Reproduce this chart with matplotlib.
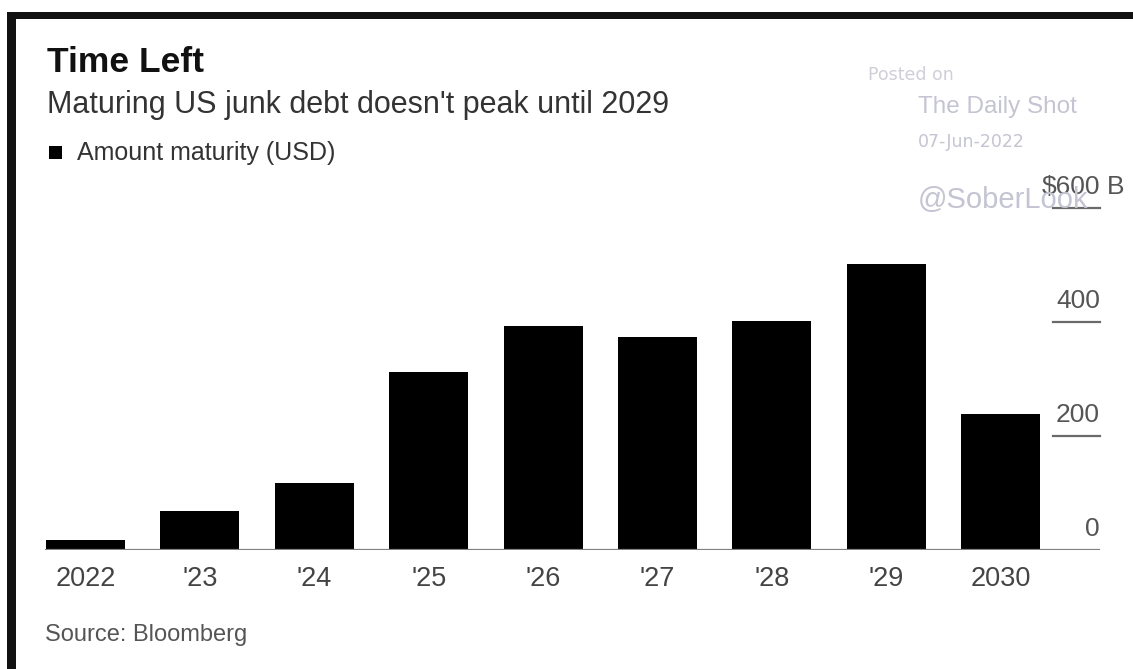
import matplotlib.pyplot as plt
from matplotlib.patches import Rectangle

plt.rcParams["font.family"] = ["Liberation Sans", "DejaVu Sans"]

# Maturing US high-yield debt by year, $ billions
years = ["2022", "'23", "'24", "'25", "'26", "'27", "'28", "'29", "2030"]
amounts = [17, 68, 117, 311, 392, 374, 401, 501, 238]
y_ticks = [0, 200, 400, 600]
y_labels = ["0", "200", "400", "\\$600"]

W, H = 1133, 669
fig = plt.figure(figsize=(W / 100, H / 100), dpi=100)
fig.patch.set_facecolor("white")

# frame bands along the top and left edge
fig.add_artist(Rectangle((7 / W, (H - 19) / H), 1, 7 / H,
                         transform=fig.transFigure, color="#111111", lw=0))
fig.add_artist(Rectangle((7 / W, 0), 9 / W, (H - 12) / H,
                         transform=fig.transFigure, color="#111111", lw=0))

ax = fig.add_axes([45 / W, (H - 549.5) / H, 1055 / W, 341.5 / H])
x = range(len(years))
ax.bar(x, amounts, width=0.69, color="black", zorder=2)
ax.set_xlim(-0.354, 8.868)
ax.set_ylim(0, 600)
for s in ax.spines.values():
    s.set_visible(False)
ax.set_yticks([])
ax.set_xticks(list(x), years)
ax.tick_params(axis="x", length=0, pad=12, labelsize=19.5, labelcolor="#444444")

# zero line and short gridline stubs on the right
ax.axhline(0, color="#808080", lw=1.6, zorder=3)
ytrans = ax.get_yaxis_transform()
for v, lab in zip(y_ticks, y_labels):
    if v > 0:
        ax.plot([0.955, 1.0], [v, v], transform=ytrans, color="#6a6a6a",
                lw=1.6, clip_on=False)
    ax.annotate(lab, xy=(1.0, v), xycoords=ytrans, xytext=(0, 10),
                textcoords="offset points", ha="right", va="baseline",
                fontsize=19, color="#555555")
ax.annotate("B", xy=(1.0, 600), xycoords=ytrans, xytext=(5, 10),
            textcoords="offset points", ha="left", va="baseline",
            fontsize=19, color="#555555")

# headings
fig.text(47 / W, 1 - 63 / H, "Time Left", fontsize=25.5, fontweight="bold",
         color="#111111", va="center")
fig.text(47 / W, 1 - 105 / H, "Maturing US junk debt doesn't peak until 2029",
         fontsize=22, color="#333333", va="center")
fig.add_artist(Rectangle((49 / W, 1 - 159 / H), 13 / W, 13 / H,
                         transform=fig.transFigure, color="black", lw=0))
fig.text(77 / W, 1 - 153 / H, "Amount maturity (USD)", fontsize=18,
         color="#333333", va="center")
fig.text(45 / W, 1 - 635 / H, "Source: Bloomberg", fontsize=17,
         color="#555555", va="center")

# watermark
wm = "#c4c4d2"
fig.text(868 / W, 1 - 75 / H, "Posted on", fontsize=12.5, color="#cfcfd8",
         va="center", family="DejaVu Sans")
fig.text(918 / W, 1 - 107 / H, "The Daily Shot", fontsize=17.5, color=wm, va="center")
fig.text(918 / W, 1 - 142 / H, "07-Jun-2022", fontsize=12.5, color=wm,
         va="center", family="DejaVu Sans")
fig.text(918 / W, 1 - 200 / H, "@SoberLook", fontsize=21, color=wm, va="center")

fig.savefig("out.png", dpi=100)
